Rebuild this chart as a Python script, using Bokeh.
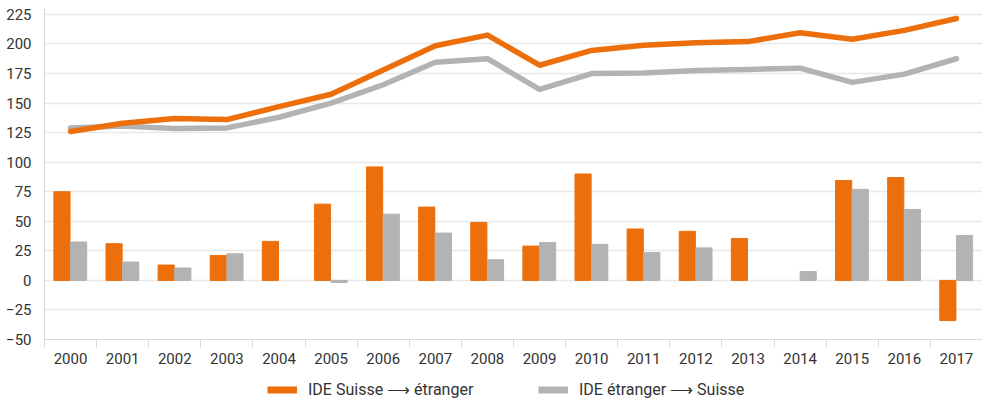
from bokeh.plotting import figure
from bokeh.models import FixedTicker, Legend, LegendItem, Range1d
from bokeh.layouts import column
from bokeh.embed import file_html
from bokeh.resources import INLINE

NA = float("nan")
years = [str(y) for y in range(2000, 2018)]
ide_out_flow = [75, 31, 13, 21, 33, 64.5, 96, 62, 49, 29, 90, 43.5, 41.5, 35.5, NA, 84.5, 87, -34]
ide_in_flow = [32.5, 15.5, 10.5, 22.5, NA, -1.7, 56, 40, 17.5, 32, 30.5, 23.5, 27.5, NA, 7.5, 77, 60, 38]
ide_out_stock = [126, 133, 137, 136, 147, 157.5, 178, 198.5, 207.5, 182, 194.5, 199, 201, 202, 209.5, 204, 211.5, 221.5]
ide_in_stock = [129, 130.5, 128.5, 129, 138, 150, 165.5, 184.5, 187.5, 161.5, 175, 175.5, 177.5, 178.5, 179.5, 167.5, 174.5, 187.5]
y_ticks = list(range(-50, 226, 25))
legend_labels = ["IDE Suisse ⟶ étranger", "IDE étranger ⟶ Suisse"]

ORANGE = "#EC6F0B"
GREY = "#B3B3B3"
FONT = "Roboto"

xs = list(range(len(years)))

p = figure(width=982, height=375, output_backend="svg", toolbar_location=None,
           x_range=Range1d(-0.5, len(years) - 0.5), y_range=Range1d(-50, 230),
           min_border_left=44, min_border_right=0, min_border_top=8, min_border_bottom=36)
p.outline_line_color = None
p.background_fill_color = "white"

p.vbar(x=[x - 0.165 for x in xs], top=ide_out_flow, width=0.31, color=ORANGE)
p.vbar(x=[x + 0.155 for x in xs], top=ide_in_flow, width=0.31, color=GREY)
p.line(xs, ide_in_stock, line_color=GREY, line_width=5.5, line_cap="round", line_join="round")
p.line(xs, ide_out_stock, line_color=ORANGE, line_width=5.5, line_cap="round", line_join="round")

# y axis
p.yaxis.ticker = FixedTicker(ticks=y_ticks)
p.yaxis.major_tick_line_color = None
p.yaxis.minor_tick_line_color = None
p.yaxis.axis_line_color = "#DADADA"
p.yaxis.major_label_text_font = FONT
p.yaxis.major_label_text_font_size = "15px"
p.yaxis.major_label_text_color = "#333333"
p.yaxis.major_label_standoff = 7

# x axis
p.xaxis.ticker = FixedTicker(ticks=xs, minor_ticks=[x - 0.5 for x in range(len(years) + 1)])
p.xaxis.major_label_overrides = {i: y for i, y in enumerate(years)}
p.xaxis.major_tick_line_color = None
p.xaxis.minor_tick_line_color = "#DADADA"
p.xaxis.minor_tick_in = 0
p.xaxis.minor_tick_out = 8
p.xaxis.axis_line_color = "#DADADA"
p.xaxis.major_label_text_font = FONT
p.xaxis.major_label_text_font_size = "15px"
p.xaxis.major_label_text_color = "#333333"
p.xaxis.major_label_standoff = 5

p.xgrid.grid_line_color = None
p.ygrid.ticker = FixedTicker(ticks=y_ticks)
p.ygrid.grid_line_color = "#E8E8E8"
p.ygrid.grid_line_width = 1.5

# legend strip
pl = figure(width=982, height=28, output_backend="svg", toolbar_location=None,
            x_range=Range1d(0, 1), y_range=Range1d(0, 1),
            min_border=0, min_border_left=10)
pl.axis.visible = False
pl.grid.visible = False
pl.outline_line_color = None
l_out = pl.line(x=[NA], y=[NA], line_width=7, line_color=ORANGE)
l_in = pl.line(x=[NA], y=[NA], line_width=7, line_color=GREY)
legend = Legend(items=[
    LegendItem(label=legend_labels[0], renderers=[l_out]),
    LegendItem(label=legend_labels[1], renderers=[l_in]),
], orientation="horizontal", location="center")
legend.border_line_color = None
legend.background_fill_alpha = 0
legend.label_text_font = FONT
legend.label_text_font_size = "16px"
legend.label_text_color = "#333333"
legend.glyph_width = 30
legend.glyph_height = 16
legend.label_width = 180
legend.label_standoff = 11
legend.spacing = 50
legend.padding = 0
legend.margin = 0
pl.add_layout(legend, "center")

open("out.html", "w").write(file_html(column(p, pl), INLINE))
